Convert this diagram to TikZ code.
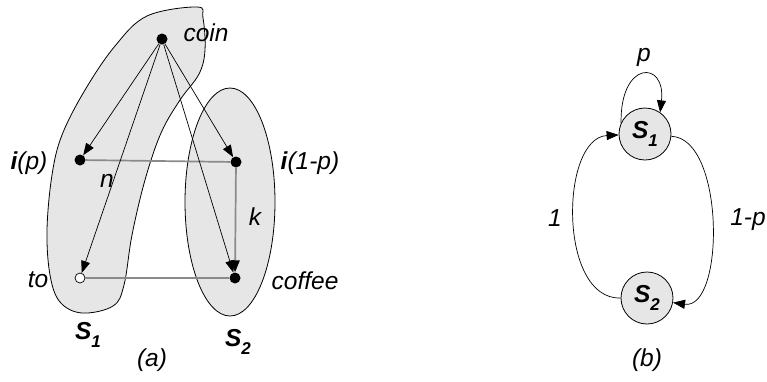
\documentclass[tikz,border=0pt]{standalone}
\usepackage{fontspec}
\setmainfont{Liberation Sans}
\usetikzlibrary{arrows.meta}
\definecolor{blobgray}{HTML}{E6E6E6}
\definecolor{linegray}{HTML}{8A8A8A}
\begin{document}
\begin{tikzpicture}[x=1pt,y=-1pt,
  every node/.style={font=\fontsize{24.5}{28}\selectfont\itshape},
  dot/.style={circle,fill=black,inner sep=0pt,minimum size=11pt},
  odot/.style={circle,draw=black,fill=white,line width=0.7pt,inner sep=0pt,minimum size=10pt},
  arr/.style={-{Triangle[length=12pt,width=9pt]},line width=0.7pt},
  gline/.style={draw=linegray,line width=1.7pt},
  region/.style={fill=blobgray,draw=black,line width=0.8pt},
  state/.style={circle,fill=blobgray,draw=black,line width=0.8pt,minimum size=52pt,inner sep=0pt},
  lbl/.style={inner sep=0pt}]
\useasboundingbox (0,0) rectangle (767,381);
% regions
\draw[region] plot[smooth cycle,tension=0.6] coordinates {(147,16) (197,7) (203,18) (205,50) (199,74) (180,100) (161,133) (145,180) (132,235) (124,285) (113,306) (82,313) (60,302) (50,275) (47,230) (52,175) (62,135) (85,90) (115,46)};
\draw[region] (230,202) ellipse [x radius=45, y radius=114];
% nodes
\node[dot] (coin) at (162,39) {};
\node[dot] (ip) at (80,160) {};
\node[dot] (iq) at (236,162) {};
\node[odot] (to) at (80,278) {};
\node[dot] (cof) at (235,278) {};
% gray lines
\draw[gline] (ip) -- (iq);
\draw[gline] (to) -- (cof);
\draw[gline,-{Triangle[length=12pt,width=9pt,color=black]}] (iq) -- (cof);
% arrows
\draw[arr] (coin) -- (ip);
\draw[arr] (coin) -- (to);
\draw[arr] (coin) -- (iq);
\draw[arr] (coin) -- (cof);
% labels
\node[lbl] (lcoin) at (206,33) {coin};
\node[lbl] (lip) at (29,163) {\textbf{i}(p)};
\node[lbl] (liq) at (310,163) {\textbf{i}(1-p)};
\node[lbl] (ln) at (107,181) {n};
\node[lbl] (lk) at (255,217) {k};
\node[lbl] (lto) at (38,280) {to};
\node[lbl] (lcof) at (305,281) {coffee};
\node[lbl] (ls1) at (88,335) {\bfseries S\raisebox{-0.3em}{\fontsize{17}{17}\selectfont 1}};
\node[lbl] (ls2) at (238,342) {\bfseries S\raisebox{-0.3em}{\fontsize{17}{17}\selectfont 2}};
\node[lbl] (la) at (152,360) {(a)};
% part (b)
\node[state] (s1) at (645,134) {\bfseries S\raisebox{-0.3em}{\fontsize{17}{17}\selectfont 1}};
\node[state] (s2) at (647,298) {\bfseries S\raisebox{-0.3em}{\fontsize{17}{17}\selectfont 2}};
\draw[arr] (s1.155) .. controls (620,60) and (666,60) .. (s1.55);
\draw[arr] (s2.180) .. controls (558,300) and (560,138) .. (s1.182);
\draw[arr] (s1.-5) .. controls (725,138) and (725,310) .. (s2.-10);
\node[lbl] (lp) at (644,57) {p};
\node[lbl] (l1) at (555,218) {1};
\node[lbl] (l1p) at (748,220) {1-p};
\node[lbl] (lb) at (647,360) {(b)};
\end{tikzpicture}
\end{document}
